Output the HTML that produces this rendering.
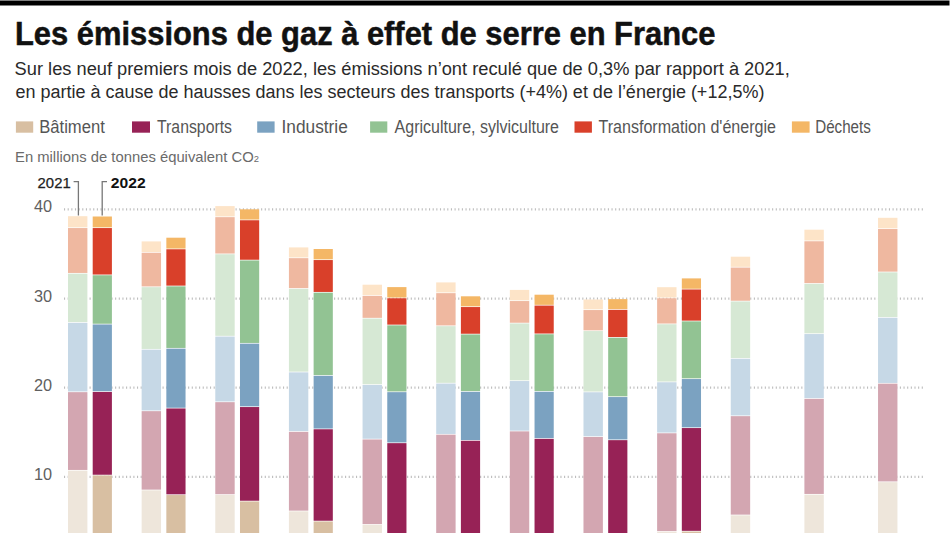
<!DOCTYPE html>
<html lang="fr"><head><meta charset="utf-8"><title>Les émissions de gaz à effet de serre en France</title>
<style>
html,body{margin:0;padding:0;background:#fff;}
body{width:950px;height:533px;overflow:hidden;}
svg{display:block;}
.g{stroke:#bdbdbd;stroke-width:2.2;stroke-dasharray:1.1 2.55;}
.ax{font-size:16.3px;fill:#606060;}
.ld{fill:none;stroke:#777;stroke-width:1.3;}
</style></head><body>
<svg width="950" height="533" viewBox="0 0 950 533">
<rect x="0" y="0.5" width="949.5" height="5" fill="#000"/>
<g font-family="'Liberation Sans', 'DejaVu Sans', sans-serif">
<text stroke="#111" stroke-width="0.5" x="15.0" y="45.2" textLength="700.4" lengthAdjust="spacingAndGlyphs" font-size="32.3" font-weight="bold" fill="#111">Les émissions de gaz à effet de serre en France</text><text x="14.6" y="75" textLength="775.2" lengthAdjust="spacingAndGlyphs" font-size="18" font-weight="normal" fill="#2a2a2a">Sur les neuf premiers mois de 2022, les émissions n’ont reculé que de 0,3% par rapport à 2021,</text><text x="15.4" y="97.5" textLength="749.0" lengthAdjust="spacingAndGlyphs" font-size="18" font-weight="normal" fill="#2a2a2a">en partie à cause de hausses dans les secteurs des transports (+4%) et de l’énergie (+12,5%)</text><rect x="15.9" y="121.4" width="17.3" height="11.3" fill="#D8BFA2"/><text x="39.2" y="132.6" textLength="65.6" lengthAdjust="spacingAndGlyphs" font-size="17.5" font-weight="normal" fill="#555">Bâtiment</text><rect x="132.0" y="121.4" width="18.0" height="11.3" fill="#972256"/><text x="157.0" y="132.6" textLength="75.0" lengthAdjust="spacingAndGlyphs" font-size="17.5" font-weight="normal" fill="#555">Transports</text><rect x="257.2" y="121.4" width="17.4" height="11.3" fill="#7BA2C1"/><text x="281.5" y="132.6" textLength="66.3" lengthAdjust="spacingAndGlyphs" font-size="17.5" font-weight="normal" fill="#555">Industrie</text><rect x="370.1" y="121.4" width="17.2" height="11.3" fill="#92C393"/><text x="394.6" y="132.6" textLength="164.4" lengthAdjust="spacingAndGlyphs" font-size="17.5" font-weight="normal" fill="#555">Agriculture, sylviculture</text><rect x="574.5" y="121.4" width="17.4" height="11.3" fill="#D9402A"/><text x="598.5" y="132.6" textLength="177.5" lengthAdjust="spacingAndGlyphs" font-size="17.5" font-weight="normal" fill="#555">Transformation d'énergie</text><rect x="791.9" y="121.4" width="17.7" height="11.3" fill="#F4B766"/><text x="815.2" y="132.6" textLength="55.6" lengthAdjust="spacingAndGlyphs" font-size="17.5" font-weight="normal" fill="#555">Déchets</text><text x="15" y="161.5" textLength="244" lengthAdjust="spacingAndGlyphs" font-size="15" font-weight="normal" fill="#6a6a6a">En millions de tonnes équivalent CO<tspan font-size="9.5">2</tspan></text><text stroke="#222" stroke-width="0.25" x="37.6" y="187.7" textLength="33.1" lengthAdjust="spacingAndGlyphs" font-size="14.7" font-weight="normal" fill="#222">2021</text><text x="110.8" y="187.7" textLength="34.8" lengthAdjust="spacingAndGlyphs" font-size="14.7" font-weight="bold" fill="#111">2022</text>
<text x="52" y="212.3" class="ax" text-anchor="end">40</text><text x="52" y="301.6" class="ax" text-anchor="end">30</text><text x="52" y="390.6" class="ax" text-anchor="end">20</text><text x="52" y="479.9" class="ax" text-anchor="end">10</text>
</g>
<line x1="64" y1="209.3" x2="924" y2="209.3" class="g"/><line x1="64" y1="298.6" x2="924" y2="298.6" class="g"/><line x1="64" y1="387.6" x2="924" y2="387.6" class="g"/><line x1="64" y1="476.9" x2="924" y2="476.9" class="g"/>
<rect x="68.00" y="216.20" width="19.40" height="11.15" fill="#FDE4C8"/><rect x="68.00" y="228.05" width="19.40" height="44.90" fill="#EFB8A0"/><rect x="68.00" y="273.65" width="19.40" height="48.50" fill="#D6E8D4"/><rect x="68.00" y="322.85" width="19.40" height="68.60" fill="#C6D8E6"/><rect x="68.00" y="392.15" width="19.40" height="77.80" fill="#D3A6B1"/><rect x="68.00" y="470.65" width="19.40" height="89.00" fill="#EEE6DB"/><rect x="92.70" y="216.50" width="19.20" height="10.85" fill="#F4B766"/><rect x="92.70" y="228.05" width="19.20" height="46.50" fill="#D9402A"/><rect x="92.70" y="275.25" width="19.20" height="48.50" fill="#92C393"/><rect x="92.70" y="324.45" width="19.20" height="66.80" fill="#7BA2C1"/><rect x="92.70" y="391.95" width="19.20" height="82.80" fill="#972256"/><rect x="92.70" y="475.45" width="19.20" height="84.20" fill="#D8BFA2"/><rect x="141.64" y="241.40" width="19.40" height="10.65" fill="#FDE4C8"/><rect x="141.64" y="252.75" width="19.40" height="33.70" fill="#EFB8A0"/><rect x="141.64" y="287.15" width="19.40" height="61.80" fill="#D6E8D4"/><rect x="141.64" y="349.65" width="19.40" height="60.80" fill="#C6D8E6"/><rect x="141.64" y="411.15" width="19.40" height="78.50" fill="#D3A6B1"/><rect x="141.64" y="490.35" width="19.40" height="69.30" fill="#EEE6DB"/><rect x="166.34" y="237.70" width="19.20" height="10.85" fill="#F4B766"/><rect x="166.34" y="249.25" width="19.20" height="36.40" fill="#D9402A"/><rect x="166.34" y="286.35" width="19.20" height="61.60" fill="#92C393"/><rect x="166.34" y="348.65" width="19.20" height="59.10" fill="#7BA2C1"/><rect x="166.34" y="408.45" width="19.20" height="85.90" fill="#972256"/><rect x="166.34" y="495.05" width="19.20" height="64.60" fill="#D8BFA2"/><rect x="215.28" y="206.10" width="19.40" height="10.35" fill="#FDE4C8"/><rect x="215.28" y="217.15" width="19.40" height="36.40" fill="#EFB8A0"/><rect x="215.28" y="254.25" width="19.40" height="81.60" fill="#D6E8D4"/><rect x="215.28" y="336.55" width="19.40" height="64.90" fill="#C6D8E6"/><rect x="215.28" y="402.15" width="19.40" height="92.10" fill="#D3A6B1"/><rect x="215.28" y="494.95" width="19.40" height="64.70" fill="#EEE6DB"/><rect x="239.98" y="209.30" width="19.20" height="10.25" fill="#F4B766"/><rect x="239.98" y="220.25" width="19.20" height="39.50" fill="#D9402A"/><rect x="239.98" y="260.45" width="19.20" height="82.50" fill="#92C393"/><rect x="239.98" y="343.65" width="19.20" height="62.70" fill="#7BA2C1"/><rect x="239.98" y="407.05" width="19.20" height="93.70" fill="#972256"/><rect x="239.98" y="501.45" width="19.20" height="58.20" fill="#D8BFA2"/><rect x="288.92" y="247.40" width="19.40" height="10.05" fill="#FDE4C8"/><rect x="288.92" y="258.15" width="19.40" height="30.00" fill="#EFB8A0"/><rect x="288.92" y="288.85" width="19.40" height="82.80" fill="#D6E8D4"/><rect x="288.92" y="372.35" width="19.40" height="58.80" fill="#C6D8E6"/><rect x="288.92" y="431.85" width="19.40" height="78.80" fill="#D3A6B1"/><rect x="288.92" y="511.35" width="19.40" height="48.30" fill="#EEE6DB"/><rect x="313.62" y="249.00" width="19.20" height="10.35" fill="#F4B766"/><rect x="313.62" y="260.05" width="19.20" height="31.90" fill="#D9402A"/><rect x="313.62" y="292.65" width="19.20" height="82.50" fill="#92C393"/><rect x="313.62" y="375.85" width="19.20" height="52.70" fill="#7BA2C1"/><rect x="313.62" y="429.25" width="19.20" height="91.50" fill="#972256"/><rect x="313.62" y="521.45" width="19.20" height="38.20" fill="#D8BFA2"/><rect x="362.56" y="284.70" width="19.40" height="10.45" fill="#FDE4C8"/><rect x="362.56" y="295.85" width="19.40" height="22.00" fill="#EFB8A0"/><rect x="362.56" y="318.55" width="19.40" height="65.70" fill="#D6E8D4"/><rect x="362.56" y="384.95" width="19.40" height="53.80" fill="#C6D8E6"/><rect x="362.56" y="439.45" width="19.40" height="84.70" fill="#D3A6B1"/><rect x="362.56" y="524.85" width="19.40" height="34.80" fill="#EEE6DB"/><rect x="387.26" y="287.10" width="19.20" height="10.45" fill="#F4B766"/><rect x="387.26" y="298.25" width="19.20" height="26.40" fill="#D9402A"/><rect x="387.26" y="325.35" width="19.20" height="66.10" fill="#92C393"/><rect x="387.26" y="392.15" width="19.20" height="50.30" fill="#7BA2C1"/><rect x="387.26" y="443.15" width="19.20" height="101.50" fill="#972256"/><rect x="387.26" y="545.35" width="19.20" height="14.30" fill="#D8BFA2"/><rect x="436.20" y="282.40" width="19.40" height="10.05" fill="#FDE4C8"/><rect x="436.20" y="293.15" width="19.40" height="32.30" fill="#EFB8A0"/><rect x="436.20" y="326.15" width="19.40" height="56.70" fill="#D6E8D4"/><rect x="436.20" y="383.55" width="19.40" height="50.40" fill="#C6D8E6"/><rect x="436.20" y="434.65" width="19.40" height="110.00" fill="#D3A6B1"/><rect x="436.20" y="545.35" width="19.40" height="14.30" fill="#EEE6DB"/><rect x="460.90" y="296.30" width="19.20" height="10.05" fill="#F4B766"/><rect x="460.90" y="307.05" width="19.20" height="26.70" fill="#D9402A"/><rect x="460.90" y="334.45" width="19.20" height="56.70" fill="#92C393"/><rect x="460.90" y="391.85" width="19.20" height="48.20" fill="#7BA2C1"/><rect x="460.90" y="440.75" width="19.20" height="103.90" fill="#972256"/><rect x="460.90" y="545.35" width="19.20" height="14.30" fill="#D8BFA2"/><rect x="509.84" y="289.90" width="19.40" height="10.45" fill="#FDE4C8"/><rect x="509.84" y="301.05" width="19.40" height="21.70" fill="#EFB8A0"/><rect x="509.84" y="323.45" width="19.40" height="56.90" fill="#D6E8D4"/><rect x="509.84" y="381.05" width="19.40" height="49.60" fill="#C6D8E6"/><rect x="509.84" y="431.35" width="19.40" height="113.30" fill="#D3A6B1"/><rect x="509.84" y="545.35" width="19.40" height="14.30" fill="#EEE6DB"/><rect x="534.54" y="294.70" width="19.20" height="10.15" fill="#F4B766"/><rect x="534.54" y="305.55" width="19.20" height="28.00" fill="#D9402A"/><rect x="534.54" y="334.25" width="19.20" height="56.80" fill="#92C393"/><rect x="534.54" y="391.75" width="19.20" height="46.40" fill="#7BA2C1"/><rect x="534.54" y="438.85" width="19.20" height="105.80" fill="#972256"/><rect x="534.54" y="545.35" width="19.20" height="14.30" fill="#D8BFA2"/><rect x="583.48" y="299.50" width="19.40" height="9.85" fill="#FDE4C8"/><rect x="583.48" y="310.05" width="19.40" height="20.30" fill="#EFB8A0"/><rect x="583.48" y="331.05" width="19.40" height="60.50" fill="#D6E8D4"/><rect x="583.48" y="392.25" width="19.40" height="44.00" fill="#C6D8E6"/><rect x="583.48" y="436.95" width="19.40" height="107.70" fill="#D3A6B1"/><rect x="583.48" y="545.35" width="19.40" height="14.30" fill="#EEE6DB"/><rect x="608.18" y="299.10" width="19.20" height="10.05" fill="#F4B766"/><rect x="608.18" y="309.85" width="19.20" height="27.20" fill="#D9402A"/><rect x="608.18" y="337.75" width="19.20" height="58.60" fill="#92C393"/><rect x="608.18" y="397.05" width="19.20" height="42.40" fill="#7BA2C1"/><rect x="608.18" y="440.15" width="19.20" height="104.50" fill="#972256"/><rect x="608.18" y="545.35" width="19.20" height="14.30" fill="#D8BFA2"/><rect x="657.12" y="287.20" width="19.40" height="10.35" fill="#FDE4C8"/><rect x="657.12" y="298.25" width="19.40" height="25.30" fill="#EFB8A0"/><rect x="657.12" y="324.25" width="19.40" height="57.30" fill="#D6E8D4"/><rect x="657.12" y="382.25" width="19.40" height="50.30" fill="#C6D8E6"/><rect x="657.12" y="433.25" width="19.40" height="97.90" fill="#D3A6B1"/><rect x="657.12" y="531.85" width="19.40" height="27.80" fill="#EEE6DB"/><rect x="681.82" y="278.40" width="19.20" height="10.35" fill="#F4B766"/><rect x="681.82" y="289.45" width="19.20" height="31.20" fill="#D9402A"/><rect x="681.82" y="321.35" width="19.20" height="57.00" fill="#92C393"/><rect x="681.82" y="379.05" width="19.20" height="48.30" fill="#7BA2C1"/><rect x="681.82" y="428.05" width="19.20" height="102.80" fill="#972256"/><rect x="681.82" y="531.55" width="19.20" height="28.10" fill="#D8BFA2"/><rect x="730.76" y="256.70" width="19.40" height="10.15" fill="#FDE4C8"/><rect x="730.76" y="267.55" width="19.40" height="33.20" fill="#EFB8A0"/><rect x="730.76" y="301.45" width="19.40" height="56.60" fill="#D6E8D4"/><rect x="730.76" y="358.75" width="19.40" height="56.70" fill="#C6D8E6"/><rect x="730.76" y="416.15" width="19.40" height="98.50" fill="#D3A6B1"/><rect x="730.76" y="515.35" width="19.40" height="44.30" fill="#EEE6DB"/><rect x="804.40" y="229.70" width="19.40" height="10.85" fill="#FDE4C8"/><rect x="804.40" y="241.25" width="19.40" height="41.90" fill="#EFB8A0"/><rect x="804.40" y="283.85" width="19.40" height="49.50" fill="#D6E8D4"/><rect x="804.40" y="334.05" width="19.40" height="64.10" fill="#C6D8E6"/><rect x="804.40" y="398.85" width="19.40" height="95.10" fill="#D3A6B1"/><rect x="804.40" y="494.65" width="19.40" height="65.00" fill="#EEE6DB"/><rect x="878.04" y="217.80" width="19.40" height="10.45" fill="#FDE4C8"/><rect x="878.04" y="228.95" width="19.40" height="42.70" fill="#EFB8A0"/><rect x="878.04" y="272.35" width="19.40" height="44.70" fill="#D6E8D4"/><rect x="878.04" y="317.75" width="19.40" height="65.20" fill="#C6D8E6"/><rect x="878.04" y="383.65" width="19.40" height="97.80" fill="#D3A6B1"/><rect x="878.04" y="482.15" width="19.40" height="77.50" fill="#EEE6DB"/>
<path d="M73.6 181.7 H78.4 V215.5" class="ld"/><path d="M107 181.7 H102.2 V215.5" class="ld"/>
</svg>
</body></html>
